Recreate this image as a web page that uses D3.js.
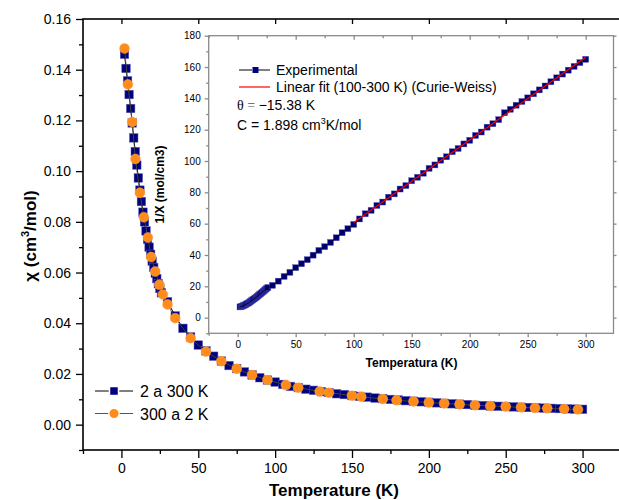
<!DOCTYPE html>
<html><head><meta charset="utf-8">
<script src="https://cdn.jsdelivr.net/npm/d3@7"></script>
<style>
body{margin:0;background:#fff;}
svg{display:block;font-family:"Liberation Sans",Arial,sans-serif;}
</style></head>
<body><svg id="c" width="619" height="500"></svg>
<script>
// ---------- data ----------
const tempUp = [2,3,4,5,6,7,8,9,10,11,12,13,14,15,16,17,18,19,20,21,22,23,24,25,26,
  30,35,40,45,50,55,60,65,70,75,80,85,90,95,100,
  105,110,115,120,125,130,135,140,145,150,155,160,165,170,175,180,185,190,195,200,
  205,210,215,220,225,230,235,240,245,250,255,260,265,270,275,280,285,290,295,300];
const chiUp = [0.1461,0.1405,0.1356,0.1302,0.1247,0.1190,0.1131,0.1077,0.1024,0.0973,0.0925,0.0880,0.0838,0.0800,0.0764,0.0731,0.0700,0.0672,0.0645,0.0620,0.0597,0.0576,0.0556,0.0537,0.0520,
  0.0485,0.0429,0.0380,0.0346,0.0314,0.0291,0.0270,0.0251,0.0233,0.0221,0.0208,0.0196,0.0185,0.0176,0.0168,
  0.01587,0.01508,0.01460,0.01397,0.01355,0.01300,0.01266,0.01218,0.01186,0.01144,0.01116,0.01085,0.01049,0.01026,0.00995,0.00974,0.00944,0.00926,0.00902,0.00883,
  0.00860,0.00844,0.00822,0.00808,0.00791,0.00765,0.00752,0.00737,0.00725,0.00713,0.00700,0.00688,0.00676,0.00664,0.00653,0.00643,0.00633,0.00623,0.00614,0.00606];
const tempDown = [297,288,277,269,260,250,240,230,220,210,200,190,179,170,156,150,135,129,115,107,95,85,75,65,55,45,35,30,27,24.7,22,19.3,17.2,14.6,12,9.1,7,4.2,2];
const chiDown = [0.00600,0.00620,0.00642,0.00660,0.00682,0.00712,0.00738,0.00765,0.00800,0.00838,0.00870,0.00915,0.00962,0.01010,0.01100,0.01144,0.01262,0.01310,0.01460,0.01560,0.01760,0.01960,0.02200,0.0250,0.0288,0.0341,0.0420,0.0474,0.0513,0.0552,0.0604,0.0661,0.0738,0.0818,0.0915,0.1048,0.1194,0.1342,0.1484];
const invChi = [6.84,7.12,7.37,7.68,8.02,8.40,8.84,9.29,9.77,10.28,10.81,11.36,11.93,12.50,13.09,13.68,14.29,14.88,15.50,16.13,16.75,17.36,17.99,18.62,19.23,
  20.6,23.3,26.3,28.9,31.9,34.4,37.0,39.9,42.9,45.3,48.0,51.0,54.2,56.8,59.5,
  63.0,66.3,68.5,71.6,73.8,76.9,79.0,82.1,84.3,87.4,89.6,92.2,95.3,97.5,100.5,102.7,105.9,108.0,110.9,113.2,
  116.3,118.5,121.6,123.8,126.4,130.8,133.0,135.6,138.0,140.3,142.9,145.4,147.9,150.6,153.1,155.5,158.0,160.4,162.8,164.9];
const fitT = [100, 300];
const fitInv = [60.8, 166.2];

const mainXTicks = [0,50,100,150,200,250,300];
const mainXMinor = [-25,25,75,125,175,225,275,325];
const mainYTicks = [0.00,0.02,0.04,0.06,0.08,0.10,0.12,0.14,0.16];
const mainYMinor = [-0.01,0.01,0.03,0.05,0.07,0.09,0.11,0.13,0.15];
const insXTicks = [0,50,100,150,200,250,300];
const insXMinor = [-25,25,75,125,175,225,275];
const insYTicks = [0,20,40,60,80,100,120,140,160,180];
const insYMinor = [-10,10,30,50,70,90,110,130,150,170];

const seriesNames = ["2 a 300 K","300 a 2 K"];
const insetLegend = ["Experimental","Linear fit (100-300 K) (Curie-Weiss)"];

// ---------- setup ----------
const svg = d3.select("#c");
const NAVY = "#000080", ORANGE = "#ff8c1a";
const x = d3.scaleLinear().domain([-25,325]).range([83,621]);
const y = d3.scaleLinear().domain([-0.01,0.16]).range([450,19]);

function styleAxis(g, col, fs){
  g.selectAll("path.domain").remove();
  g.selectAll("line").attr("stroke",col).attr("stroke-width",1.3);
  g.selectAll("text").attr("fill","#000").attr("font-size",fs)
    .attr("font-family","'Liberation Sans',Arial,sans-serif");
}

// main axes
const gm = svg.append("g");
gm.append("g").attr("transform","translate(0,450)")
  .call(d3.axisBottom(x).tickValues(mainXTicks).tickSize(8).tickPadding(5).tickFormat(d3.format("d")))
  .call(g=>styleAxis(g,"#000",14));
gm.append("g").attr("transform","translate(0,450)")
  .call(d3.axisBottom(x).tickValues(mainXMinor).tickSize(4).tickFormat(""))
  .call(g=>styleAxis(g,"#000",14));
gm.append("g").attr("transform","translate(83,0)")
  .call(d3.axisLeft(y).tickValues(mainYTicks).tickSize(7).tickPadding(5).tickFormat(d3.format(".2f")))
  .call(g=>styleAxis(g,"#000",14));
gm.append("g").attr("transform","translate(83,0)")
  .call(d3.axisLeft(y).tickValues(mainYMinor).tickSize(4).tickFormat(""))
  .call(g=>styleAxis(g,"#000",14));
gm.append("g").attr("transform","translate(0,19)")
  .call(d3.axisTop(x).tickValues(mainXTicks).tickSize(-5).tickFormat(""))
  .call(g=>styleAxis(g,"#000",14));
gm.append("rect").attr("x",83).attr("y",19).attr("width",538).attr("height",431)
  .attr("fill","none").attr("stroke","#000").attr("stroke-width",1.6);

// axis titles
svg.append("text").attr("x",334).attr("y",496).attr("text-anchor","middle")
  .attr("font-size",17).attr("font-weight","bold").text("Temperature (K)");
const yt = svg.append("text").attr("transform","translate(36,236) rotate(-90)")
  .attr("text-anchor","middle").attr("font-size",17).attr("font-weight","bold");
yt.append("tspan").text("χ (cm");
yt.append("tspan").attr("font-size",11).attr("dy",-7).text("3");
yt.append("tspan").attr("dy",7).text("/mol)");

// ---------- inset ----------
const xi = d3.scaleLinear().domain([-25,325]).range([208.7,614.7]);
const yi = d3.scaleLinear().domain([-10,180]).range([333.3,35.7]);
const gi = svg.append("g");
gi.append("rect").attr("x",208.7).attr("y",35.7).attr("width",405).attr("height",297.6)
  .attr("fill","#fff").attr("stroke","none");

// main data (drawn before inset frame lines? data is outside inset)
const lineM = d3.line().x((d,i)=>x(d[0])).y(d=>y(d[1]));
const upPts = tempUp.map((t,i)=>[t,chiUp[i]]);
const downPts = tempDown.map((t,i)=>[t,chiDown[i]]);
const sqM = 8.5;
svg.append("g").selectAll("rect").data(upPts).join("rect")
  .attr("x",d=>x(d[0])-sqM/2).attr("y",d=>y(d[1])-sqM/2).attr("width",sqM).attr("height",sqM)
  .attr("fill",NAVY).attr("stroke","#5a5ab4").attr("stroke-width",0.5);
svg.append("path").datum(upPts).attr("d",lineM).attr("fill","none").attr("stroke","#000").attr("stroke-width",1);
svg.append("path").datum(downPts).attr("d",lineM).attr("fill","none").attr("stroke","#555").attr("stroke-width",0.8);
svg.append("g").selectAll("circle").data(downPts).join("circle")
  .attr("cx",d=>x(d[0])).attr("cy",d=>y(d[1])).attr("r",5)
  .attr("fill",ORANGE).attr("stroke","#ffb060").attr("stroke-width",0.4);

// inset axes
const GR = "#8a8a8a";
gi.append("g").attr("transform","translate(0,333.3)")
  .call(d3.axisBottom(xi).tickValues(insXTicks).tickSize(4).tickPadding(4).tickFormat(d3.format("d")))
  .call(g=>styleAxis(g,GR,10));
gi.append("g").attr("transform","translate(0,333.3)")
  .call(d3.axisBottom(xi).tickValues(insXMinor).tickSize(2.5).tickFormat(""))
  .call(g=>styleAxis(g,GR,10));
gi.append("g").attr("transform","translate(208.7,0)")
  .call(d3.axisLeft(yi).tickValues(insYTicks).tickSize(4).tickPadding(4).tickFormat(d3.format("d")))
  .call(g=>styleAxis(g,GR,10));
gi.append("g").attr("transform","translate(208.7,0)")
  .call(d3.axisLeft(yi).tickValues(insYMinor).tickSize(2.5).tickFormat(""))
  .call(g=>styleAxis(g,GR,10));
gi.append("g").attr("transform","translate(0,35.7)")
  .call(d3.axisTop(xi).tickValues(insXTicks).tickSize(-4).tickFormat(""))
  .call(g=>styleAxis(g,GR,10));
gi.append("g").attr("transform","translate(0,35.7)")
  .call(d3.axisTop(xi).tickValues(insXMinor).tickSize(-2.5).tickFormat(""))
  .call(g=>styleAxis(g,GR,10));
gi.append("g").attr("transform","translate(613.5,0)")
  .call(d3.axisRight(yi).tickValues(insYTicks).tickSize(3).tickFormat(""))
  .call(g=>styleAxis(g,GR,10));
gi.append("rect").attr("x",208.7).attr("y",35.7).attr("width",404.8).attr("height",297.6)
  .attr("fill","none").attr("stroke",GR).attr("stroke-width",1.3);

// inset titles
gi.append("text").attr("x",411.5).attr("y",367).attr("text-anchor","middle")
  .attr("font-size",12).attr("font-weight","bold").text("Temperatura (K)");
gi.append("text").attr("transform","translate(164,184.5) rotate(-90)").attr("text-anchor","middle")
  .attr("font-size",12).attr("font-weight","bold").text("1/X (mol/cm3)");

// inset data
const lineI = d3.line().x(d=>xi(d[0])).y(d=>yi(d[1]));
const invPts = tempUp.map((t,i)=>[t,invChi[i]]);
const sqI = 6;
gi.append("g").selectAll("rect").data(invPts).join("rect")
  .attr("x",d=>xi(d[0])-sqI/2).attr("y",d=>yi(d[1])-sqI/2).attr("width",sqI).attr("height",sqI)
  .attr("fill",NAVY).attr("stroke","#5a5ab4").attr("stroke-width",0.4);
gi.append("path").datum(invPts).attr("d",lineI).attr("fill","none").attr("stroke","#000").attr("stroke-width",0.8);
gi.append("path").datum(fitT.map((t,i)=>[t,fitInv[i]])).attr("d",lineI)
  .attr("fill","none").attr("stroke","#ff0000").attr("stroke-width",1.2);

// inset legend
const lg = gi.append("g").attr("font-size",14);
lg.append("line").attr("x1",239).attr("x2",270).attr("y1",70).attr("y2",70).attr("stroke","#000").attr("stroke-width",1);
lg.append("rect").attr("x",252).attr("y",67).attr("width",6).attr("height",6).attr("fill","#fff");
lg.append("rect").attr("x",252.5).attr("y",67).attr("width",6).attr("height",6).attr("fill",NAVY);
lg.append("text").attr("x",276).attr("y",75).text(insetLegend[0]);
lg.append("line").attr("x1",239).attr("x2",270).attr("y1",87).attr("y2",87).attr("stroke","#ff0000").attr("stroke-width",1.2);
lg.append("text").attr("x",276).attr("y",92).text(insetLegend[1]);
const th = lg.append("text").attr("x",237).attr("y",110);
th.append("tspan").attr("font-family","'Liberation Serif','Times New Roman',serif").text("θ ");
th.append("tspan").attr("font-family","'Liberation Serif','Times New Roman',serif").attr("fill","#555").text("= ");
th.append("tspan").text("−15.38 K");
const ct = lg.append("text").attr("x",237).attr("y",130);
ct.append("tspan").text("C = 1.898 cm");
ct.append("tspan").attr("font-size",9).attr("dy",-6).text("3");
ct.append("tspan").attr("dy",6).text("K/mol");

// main legend
const ml = svg.append("g").attr("font-size",16);
ml.append("line").attr("x1",95).attr("x2",133).attr("y1",391).attr("y2",391).attr("stroke","#000").attr("stroke-width",1);
ml.append("rect").attr("x",109.5).attr("y",386.5).attr("width",9).attr("height",9).attr("fill",NAVY).attr("stroke","#fff").attr("stroke-width",1.5);
ml.append("text").attr("x",140).attr("y",397).text(seriesNames[0]);
ml.append("line").attr("x1",95).attr("x2",133).attr("y1",413.5).attr("y2",413.5).attr("stroke","#555").attr("stroke-width",1);
ml.append("circle").attr("cx",114).attr("cy",413.5).attr("r",5.2).attr("fill",ORANGE).attr("stroke","#fff").attr("stroke-width",1.2);
ml.append("text").attr("x",140).attr("y",419.5).text(seriesNames[1]);
</script></body></html>
